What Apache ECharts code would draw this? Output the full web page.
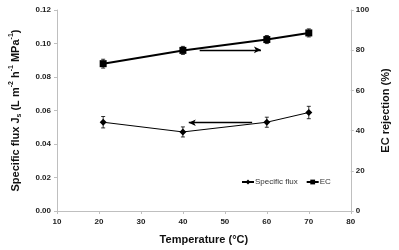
<!DOCTYPE html>
<html>
<head>
<meta charset="utf-8">
<script src="https://cdn.jsdelivr.net/npm/echarts@6/dist/echarts.min.js"></script>
<style>
  html, body { margin: 0; padding: 0; background: #fff; }
  #chart { width: 399px; height: 250px; }
</style>
</head>
<body>
<div id="chart"></div>
<script>
// temperatures (°C)
const temps = [21, 40, 60, 70]
// specific flux (left axis) and its error
const fluxValues = [0.0530, 0.0472, 0.0530, 0.0588]
const fluxErr = [0.0034, 0.0030, 0.0030, 0.0037]
// EC rejection % (right axis) and its error
const ecValues = [73.3, 79.9, 85.3, 88.6]
const ecErr = [2.2, 2.0, 2.0, 2.0]
// arrows pointing to the axis of each series
const ecArrow = [[44, 80.2], [58.6, 80.2]]
const fluxArrow = [[56.5, 0.0527], [41.4, 0.0527]]

const font = 'Liberation Sans, Arial, sans-serif'

let myChart = echarts.init(document.querySelector('#chart'))

// error bars drawn with caps
function errorBar(params, api) {
    let x = api.value(0)
    let top = api.coord([x, api.value(2)])
    let bot = api.coord([x, api.value(1)])
    let w = 2
    let style = { stroke: '#000', lineWidth: 0.8 }
    return {
        type: 'group',
        children: [
            { type: 'line', shape: { x1: top[0], y1: top[1], x2: bot[0], y2: bot[1] }, style: style },
            { type: 'line', shape: { x1: top[0] - w, y1: top[1], x2: top[0] + w, y2: top[1] }, style: style },
            { type: 'line', shape: { x1: bot[0] - w, y1: bot[1], x2: bot[0] + w, y2: bot[1] }, style: style }
        ]
    }
}

const axisLabel = { color: '#222', fontSize: 8, fontWeight: 'bold', fontFamily: font }
const axisLine = { show: true, lineStyle: { color: '#bfbfbf', width: 1 } }
const axisTick = { show: true, length: 3, lineStyle: { color: '#bfbfbf' } }

const option = {
    animation: false,
    grid: { left: 50, right: 44, top: 10, bottom: 38 },
    legend: {
        data: ['Specific flux', 'EC'],
        left: 236,
        top: 173,
        itemWidth: 12,
        itemHeight: 6,
        itemGap: 8,
        textStyle: { fontSize: 8, color: '#333', fontFamily: font, padding: [0, 0, 0, -4] }
    },
    xAxis: {
        type: 'value',
        min: 10,
        max: 80,
        interval: 10,
        name: 'Temperature (°C)',
        nameLocation: 'middle',
        nameGap: 23,
        nameTextStyle: { fontSize: 11, fontWeight: 'bold', color: '#111', fontFamily: font },
        axisLine: axisLine,
        axisTick: axisTick,
        splitLine: { show: false },
        axisLabel: Object.assign({ margin: 7 }, axisLabel)
    },
    yAxis: [
        {
            type: 'value',
            min: 0,
            max: 0.12,
            interval: 0.02,
            name: '{t|Specific flux J}{sub|s}{t| (L m}{sup|-2}{t| h}{sup|-1}{t| MPa}{sup|-1}{t|)}',
            nameLocation: 'middle',
            nameGap: 34,
            nameTextStyle: {
                rich: {
                    t: { fontSize: 11, fontWeight: 'bold', color: '#111', fontFamily: font, lineHeight: 15 },
                    sub: { fontSize: 7, fontWeight: 'bold', color: '#111', fontFamily: font, verticalAlign: 'bottom', lineHeight: 15 },
                    sup: { fontSize: 7, fontWeight: 'bold', color: '#111', fontFamily: font, verticalAlign: 'top', lineHeight: 15 }
                }
            },
            axisLine: axisLine,
            axisTick: axisTick,
            splitLine: { show: false },
            axisLabel: Object.assign({ margin: 6, formatter: v => v.toFixed(2) }, axisLabel)
        },
        {
            type: 'value',
            min: 0,
            max: 100,
            interval: 20,
            position: 'right',
            name: 'EC rejection (%)',
            nameLocation: 'middle',
            nameGap: 28,
            nameRotate: 90,
            nameTextStyle: { fontSize: 11, fontWeight: 'bold', color: '#111', fontFamily: font },
            axisLine: axisLine,
            axisTick: axisTick,
            splitLine: { show: false },
            axisLabel: Object.assign({ margin: 5 }, axisLabel)
        }
    ],
    series: [
        {
            name: 'Specific flux',
            type: 'line',
            yAxisIndex: 0,
            data: temps.map((t, i) => [t, fluxValues[i]]),
            symbol: 'diamond',
            symbolSize: 7,
            itemStyle: { color: '#000' },
            lineStyle: { color: '#000', width: 1 },
            z: 3,
            markLine: {
                silent: true,
                symbol: ['none', 'arrow'],
                symbolSize: [5, 7],
                label: { show: false },
                lineStyle: { color: '#000', width: 1.3, type: 'solid' },
                data: [[{ coord: fluxArrow[0] }, { coord: fluxArrow[1] }]]
            }
        },
        {
            name: 'EC',
            type: 'line',
            yAxisIndex: 1,
            data: temps.map((t, i) => [t, ecValues[i]]),
            symbol: 'rect',
            symbolSize: 7,
            itemStyle: { color: '#000' },
            lineStyle: { color: '#000', width: 2 },
            z: 3,
            markLine: {
                silent: true,
                symbol: ['none', 'arrow'],
                symbolSize: [5, 7],
                label: { show: false },
                lineStyle: { color: '#000', width: 1.3, type: 'solid' },
                data: [[{ coord: ecArrow[0] }, { coord: ecArrow[1] }]]
            }
        },
        {
            type: 'custom',
            yAxisIndex: 0,
            renderItem: errorBar,
            data: temps.map((t, i) => [t, fluxValues[i] - fluxErr[i], fluxValues[i] + fluxErr[i]]),
            z: 2
        },
        {
            type: 'custom',
            yAxisIndex: 1,
            renderItem: errorBar,
            data: temps.map((t, i) => [t, ecValues[i] - ecErr[i], ecValues[i] + ecErr[i]]),
            z: 2
        }
    ]
}

myChart.setOption(option)
</script>
</body>
</html>
